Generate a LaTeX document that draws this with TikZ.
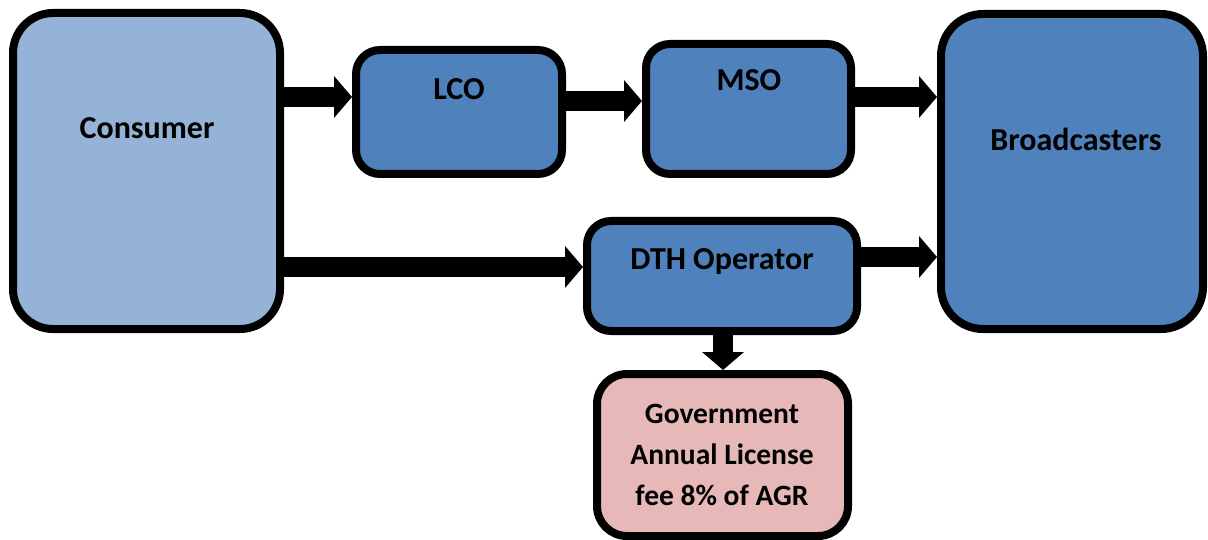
\documentclass[tikz,border=0pt]{standalone}
\usepackage{fontspec}
\setmainfont{Carlito}
\usetikzlibrary{arrows.meta}
\definecolor{lightblue}{HTML}{95B3D7}
\definecolor{midblue}{HTML}{4F81BD}
\definecolor{pinkish}{HTML}{E6B9B8}
\tikzset{
  box/.style={draw=black, line width=8pt, rectangle, inner sep=0pt, fill=midblue},
  lbl/.style={font=\fontsize{32}{41}\selectfont\bfseries, text=black, align=center, inner sep=0pt},
  govlbl/.style={font=\fontsize{29.5}{41}\selectfont\bfseries, text=black, align=center, inner sep=0pt},
  arr/.style={line width=20pt, -{Triangle[length=18pt,width=41pt]}, draw=black}
}
\begin{document}
\begin{tikzpicture}[x=1pt,y=-1pt]
\useasboundingbox (0,0) rectangle (1208,540);
\node[box, fill=lightblue, minimum width=267pt, minimum height=316pt, rounded corners=40pt] (consumer) at (146.5,171) {};
\node[box, minimum width=206pt, minimum height=124pt, rounded corners=24pt] (lco) at (459,112) {};
\node[box, minimum width=205pt, minimum height=130pt, rounded corners=24pt] (mso) at (748.5,109) {};
\node[box, minimum width=262pt, minimum height=315pt, rounded corners=42pt] (broad) at (1072,171.5) {};
\node[box, minimum width=270pt, minimum height=110pt, rounded corners=24pt] (dth) at (722,276) {};
\node[box, fill=pinkish, minimum width=251pt, minimum height=162pt, rounded corners=30pt] (gov) at (722.5,455) {};

\node[lbl] (tconsumer) at (147,128) {Consumer};
\node[lbl] (tlco) at (459,89) {LCO};
\node[lbl] (tmso) at (749,80) {MSO};
\node[lbl] (tbroad) at (1076,139) {Broadcasters};
\node[lbl] (tdth) at (722,262) {DTH Operator};
\node[govlbl] (tgov) at (722,455) {Government\\Annual License\\fee 8\% of AGR};

\coordinate (ya) at (0,97);
\coordinate (yb) at (0,101);
\coordinate (yc) at (0,267);
\coordinate (yd) at (0,257);
\coordinate (xe) at (723,0);

\draw[arr] (consumer.east |- ya) -- (lco.west |- ya);
\draw[arr] (lco.east |- yb) -- (mso.west |- yb);
\draw[arr] (mso.east |- ya) -- (broad.west |- ya);
\draw[arr] (consumer.east |- yc) -- (dth.west |- yc);
\draw[arr] (dth.east |- yd) -- (broad.west |- yd);
\draw[arr] (dth.south -| xe) -- (gov.north -| xe);
\end{tikzpicture}
\end{document}
